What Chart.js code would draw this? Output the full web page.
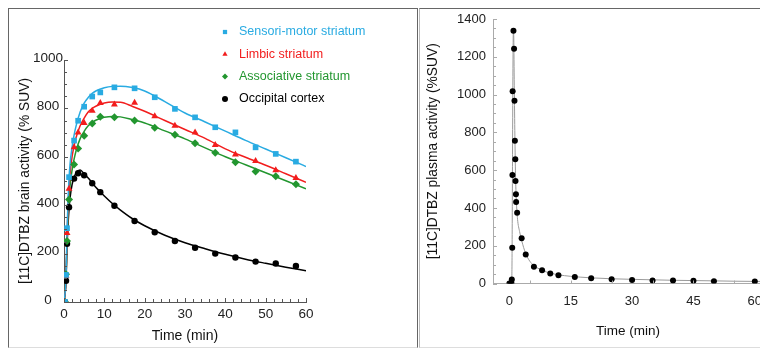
<!DOCTYPE html>
<html>
<head>
<meta charset="utf-8">
<script src="https://cdn.jsdelivr.net/npm/chart.js@4.4.1/dist/chart.umd.min.js"></script>
<style>
  html, body { margin: 0; padding: 0; background: #fff; }
  #page { position: relative; width: 760px; height: 348px; overflow: hidden; }
  #boxL { position: absolute; left: 8px; top: 8px; width: 408px; height: 338px;
          border: 1px solid #666; border-bottom-color: #ddd; }
  #boxR { position: absolute; left: 419px; top: 8px; width: 400px; height: 338px;
          border-top: 1px solid #666; border-left: 1px solid #bbb; border-bottom: 1px solid #ddd; }
  #left { position: absolute; left: 0; top: 0; }
  #right { position: absolute; left: 417px; top: 0; }
</style>
</head>
<body>
<div id="page">
  <div id="boxL"></div>
  <div id="boxR"></div>
  <canvas id="left" width="417" height="348"></canvas>
  <canvas id="right" width="360" height="348"></canvas>
</div>
<script>
// ---- brain time-activity curves (left) ----
const frameTimes = [0, 0.25, 0.5, 0.75, 1.25, 2.5, 3.5, 5, 7, 9, 12.5, 17.5, 22.5, 27.5, 32.5, 37.5, 42.5, 47.5, 52.5, 57.5];
const sensori = [0, 0, 112, 305, 516, 667, 749, 807, 849, 866, 887, 883, 846, 798, 763, 722, 701, 639, 612, 580];
const limbic  = [0, 0, 108, 285, 468, 639, 700, 740, 790, 822, 816, 823, 768, 728, 700, 649, 609, 583, 544, 512];
const assoc   = [0, 0, 115, 252, 424, 568, 634, 687, 738, 765, 763, 750, 720, 691, 656, 617, 577, 539, 520, 487];
const occip   = [0, 0, 88, 241, 392, 510, 532, 524, 491, 454, 398, 335, 288, 252, 224, 200, 184, 167, 159, 149];

// model fits
const fitTimes   = [0, 0.5, 0.75, 1, 1.25, 1.5, 2, 2.5, 3, 4, 5, 6, 7, 8, 10, 12, 14, 17, 20, 25, 30, 35, 40, 45, 50, 55, 60];
const sensoriFit = [0, 100, 290, 420, 510, 570, 640, 690, 728, 785, 822, 845, 862, 873, 885, 891, 892, 886, 872, 828, 781, 744, 706, 668, 632, 596, 560];
const limbicFit  = [0, 95, 270, 390, 470, 530, 600, 645, 680, 728, 760, 785, 800, 810, 822, 826, 825, 808, 788, 750, 713, 676, 633, 598, 565, 530, 495];
const assocFit   = [0, 100, 245, 350, 425, 480, 545, 590, 625, 675, 705, 728, 742, 752, 763, 767, 765, 753, 740, 707, 674, 637, 600, 567, 534, 501, 468];
const occipFit   = [0, 85, 230, 320, 385, 430, 485, 515, 533, 545, 530, 512, 492, 472, 438, 407, 380, 344, 315, 276, 245, 220, 197, 177, 160, 144, 129];

const brainLabels = ['Sensori-motor striatum', 'Limbic striatum', 'Associative striatum', 'Occipital cortex'];
const leftXTicks = [0, 10, 20, 30, 40, 50, 60];
const leftYTicks = [0, 200, 400, 600, 800, 1000];

// ---- plasma input curve (right) ----
const plasmaTimes = [0, 0.25, 0.5, 0.6, 0.7, 0.75, 0.8, 1.0, 1.15, 1.25, 1.35, 1.45, 1.5, 1.6, 1.65, 1.9, 3, 4, 6, 8, 10, 12, 16, 20, 25, 30, 35, 40, 45, 50, 60];
const plasma      = [0, 0, 3, 21, 189, 574, 1018, 1338, 1243, 967, 755, 657, 542, 473, 432, 374, 240, 153, 88, 70, 53, 44, 35, 28, 23, 19, 16, 16, 14, 12, 11];
const plasmaFitTimes = [0, 0.55, 0.65, 0.75, 0.85, 0.95, 1.0, 1.08, 1.2, 1.35, 1.5, 1.7, 2, 2.5, 3, 4, 5, 6, 8, 10, 12, 15, 20, 25, 30, 40, 50, 60, 62];
const plasmaFit      = [0, 0, 120, 560, 1050, 1320, 1345, 1300, 1050, 780, 580, 440, 340, 275, 228, 158, 118, 95, 70, 55, 46, 38, 30, 25, 22, 17, 14, 11, 11];
const rightXTicks = [0, 15, 30, 45, 60];
const rightYTicks = [0, 200, 400, 600, 800, 1000, 1200, 1400];

const BLUE = '#29abe2', RED = '#f21d1d', GREEN = '#22962f', BLACK = '#000';
const NARROW = "'Liberation Sans Narrow', 'Liberation Sans', Arial, sans-serif";
const SANS = "'Liberation Sans', Arial, sans-serif";

const toXY = (xs, ys) => xs.map((x, i) => ({ x, y: ys[i] }));
const plain = v => String(v);   // no thousands separator

// small tick marks drawn inside the plot, at the scale's own pixels
const innerTicks = {
    id: 'innerTicks',
    afterDatasetsDraw(chart, args, opts) {
        const ctx = chart.ctx;
        const xs = chart.scales.x, ys = chart.scales.y;
        ctx.save();
        ctx.strokeStyle = opts.color;
        ctx.lineWidth = 1;
        ctx.beginPath();
        for (let v = opts.x.start; v <= xs.max + 1e-9; v += opts.x.step) {
            if (v < xs.min) continue;
            const px = Math.round(xs.getPixelForValue(v)) + 0.5;
            const len = opts.x.major.includes(v) ? opts.len : opts.minorLen;
            ctx.moveTo(px, xs.top);
            ctx.lineTo(px, xs.top - len);
        }
        for (let v = opts.y.start; v <= ys.max + 1e-9; v += opts.y.step) {
            const py = Math.round(ys.getPixelForValue(v)) + 0.5;
            const len = opts.y.major.includes(v) ? opts.len : opts.minorLen;
            ctx.moveTo(ys.right, py);
            ctx.lineTo(ys.right + len, py);
        }
        ctx.stroke();
        ctx.restore();
    }
};

// legend inside the plot, text in series colour
const insideLegend = {
    id: 'insideLegend',
    afterDraw(chart, args, opts) {
        if (!opts.x) return;
        const ctx = chart.ctx;
        ctx.save();
        ctx.font = opts.font;
        ctx.textBaseline = 'middle';
        chart.data.datasets.filter(d => d.inLegend).forEach((d, i) => {
            const y = opts.y + i * opts.step;
            ctx.fillStyle = d.backgroundColor;
            Chart.helpers.drawPoint(ctx, { pointStyle: d.pointStyle, radius: opts.radius, rotation: 0, borderWidth: 0 }, opts.x, y);
            ctx.fillText(d.label, opts.textX, y);
        });
        ctx.restore();
    }
};

function fitLine(data, color, width) {
    return {
        data, showLine: true, pointRadius: 0, borderColor: color, borderWidth: width,
        cubicInterpolationMode: 'monotone', order: 2
    };
}

function markers(label, data, color, style, radius) {
    return {
        label, data, inLegend: true, showLine: false, pointStyle: style, pointRadius: radius,
        backgroundColor: color, borderColor: color, borderWidth: 0, order: 1
    };
}

// ================= LEFT: brain =================
new Chart(document.getElementById('left'), {
    type: 'scatter',
    data: {
        datasets: [
            fitLine(toXY(fitTimes, sensoriFit), BLUE, 1.5),
            fitLine(toXY(fitTimes, limbicFit), RED, 1.5),
            fitLine(toXY(fitTimes, assocFit), GREEN, 1.5),
            fitLine(toXY(fitTimes, occipFit), BLACK, 1.5),
            markers(brainLabels[0], toXY(frameTimes, sensori), BLUE, 'rect', 4),
            markers(brainLabels[1], toXY(frameTimes, limbic), RED, 'triangle', 4),
            markers(brainLabels[2], toXY(frameTimes, assoc), GREEN, 'rectRot', 4),
            markers(brainLabels[3], toXY(frameTimes, occip), BLACK, 'circle', 3.2)
        ]
    },
    options: {
        responsive: false,
        animation: false,
        layout: { padding: { left: 0, top: 60, right: 111, bottom: 0 } },
        plugins: {
            legend: { display: false },
            tooltip: { enabled: false },
            innerTicks: {
                color: '#555', len: 4, minorLen: 3,
                x: { major: leftXTicks, start: 0, step: 2 },
                y: { major: leftYTicks, start: 0, step: 50 }
            },
            insideLegend: {
                x: 225, textX: 239, y: 32, step: 22.3, radius: 3,
                font: "12.5px " + NARROW
            }
        },
        scales: {
            x: {
                type: 'linear', min: 0, max: 60,
                afterBuildTicks: s => { s.ticks = leftXTicks.map(v => ({ value: v })); },
                afterFit: s => { s.height = 46; },
                grid: { display: false, drawTicks: false },
                border: { display: true, color: '#555', width: 1 },
                ticks: { color: '#222', padding: 4, maxRotation: 0, callback: plain,
                         font: { family: NARROW, size: 13.5 } },
                title: { display: true, text: 'Time (min)', color: '#111', padding: { top: 0, bottom: 3 },
                         font: { family: NARROW, size: 14 } }
            },
            y: {
                type: 'linear', min: 0, max: 1000,
                afterBuildTicks: s => { s.ticks = leftYTicks.map(v => ({ value: v })); },
                afterFit: s => { s.width = 64; },
                grid: { display: false, drawTicks: false },
                border: { display: true, color: '#555', width: 1 },
                ticks: { color: '#222', padding: 1, crossAlign: 'center', labelOffset: -2, callback: plain,
                         font: { family: NARROW, size: 13.5 } },
                title: { display: true, text: '[11C]DTBZ brain activity (% SUV)', color: '#111',
                         padding: { top: 17, bottom: 0 }, font: { family: SANS, size: 13.8 } }
            }
        }
    },
    plugins: [innerTicks, insideLegend]
});

// ================= RIGHT: plasma =================
new Chart(document.getElementById('right'), {
    type: 'scatter',
    data: {
        datasets: [
            fitLine(toXY(plasmaFitTimes, plasmaFit), '#9a9a9a', 1),
            {
                data: toXY(plasmaTimes, plasma), showLine: false, pointStyle: 'circle', pointRadius: 3,
                backgroundColor: BLACK, borderWidth: 0, order: 1
            }
        ]
    },
    options: {
        responsive: false,
        animation: false,
        layout: { padding: { left: 0, top: 19, right: 14, bottom: 0 } },
        plugins: {
            legend: { display: false },
            tooltip: { enabled: false },
            innerTicks: {
                color: '#aaa', len: 4, minorLen: 3,
                x: { major: [], start: 5, step: 10 },
                y: { major: rightYTicks, start: 0, step: 50 }
            }
        },
        scales: {
            x: {
                type: 'linear', min: -4, max: 62,
                afterBuildTicks: s => { s.ticks = rightXTicks.map(v => ({ value: v })); },
                afterFit: s => { s.height = 64.5; },
                grid: { display: false, drawTicks: false },
                border: { display: true, color: '#aaa', width: 1 },
                ticks: { color: '#222', padding: 10, maxRotation: 0, callback: plain,
                         font: { family: SANS, size: 13 } },
                title: { display: true, text: 'Time (min)', color: '#111', padding: { top: 0, bottom: 8.5 },
                         font: { family: SANS, size: 13.5 } }
            },
            y: {
                type: 'linear', min: 0, max: 1400,
                afterBuildTicks: s => { s.ticks = rightYTicks.map(v => ({ value: v })); },
                afterFit: s => { s.width = 76; },
                grid: { display: false, drawTicks: false },
                border: { display: true, color: '#aaa', width: 1 },
                ticks: { color: '#222', padding: 7, callback: plain, font: { family: SANS, size: 13 } },
                title: { display: true, text: '[11C]DTBZ plasma activity (%SUV)', color: '#111',
                         padding: { top: 8, bottom: 0 }, font: { family: SANS, size: 13.8 } }
            }
        }
    },
    plugins: [innerTicks]
});
</script>
</body>
</html>
